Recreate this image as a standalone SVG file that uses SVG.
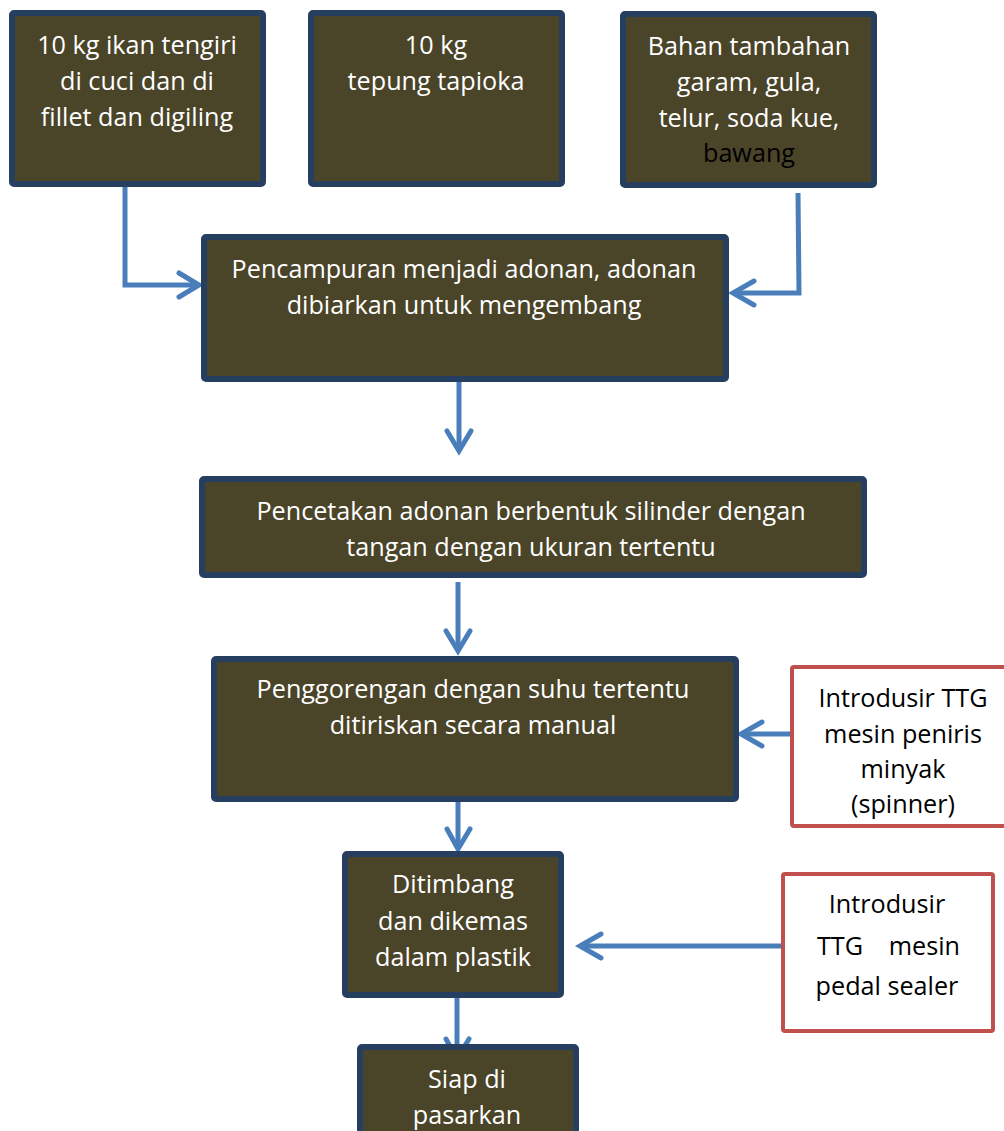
<svg xmlns="http://www.w3.org/2000/svg" width="1004" height="1131" viewBox="0 0 1004 1131">
<style>
.n{fill:#4a4429;stroke:#263f61;stroke-width:6}
.r{fill:#ffffff;stroke:#c0504d;stroke-width:4}
text{font-family:"Open Sans","Liberation Sans",Arial,sans-serif;font-size:25.2px;text-anchor:middle}
.w{fill:#ffffff}
.b{fill:#000000}
.c{fill:none;stroke:#4a7ebb;stroke-width:5;stroke-linejoin:miter}
.h{fill:none;stroke:#4a7ebb;stroke-width:5;stroke-linecap:round;stroke-linejoin:miter}
</style>
<rect width="1004" height="1131" fill="#ffffff"/>
<g id="connectors">
<polyline class="c" points="125,186 125,285 198,285"/>
<polyline class="h" points="179,273 199,285 179,297"/>
<polyline class="c" points="798,193 799,293 734,293"/>
<polyline class="h" points="754,281 733,293 754,305"/>
<line class="c" x1="459" y1="372" x2="459" y2="450"/>
<polyline class="h" points="447,431 459,451 471,431"/>
<line class="c" x1="458" y1="582" x2="458" y2="650"/>
<polyline class="h" points="446,631 458,651 470,631"/>
<line class="c" x1="798" y1="734" x2="742" y2="734"/>
<polyline class="h" points="762,722 741,734 762,746"/>
<line class="c" x1="458" y1="787" x2="458" y2="848"/>
<polyline class="h" points="447,829 458,849 470,829"/>
<line class="c" x1="781" y1="946" x2="581" y2="946"/>
<polyline class="h" points="601,934 580,946 601,958"/>
<line class="c" x1="457" y1="997" x2="457" y2="1058"/>
<polyline class="h" points="446,1039 457,1059 469,1039"/>
</g>
<g id="n1">
<rect class="n" x="12" y="13" width="251" height="171" rx="2"/>
<text class="w" x="137" y="54">10 kg ikan tengiri</text>
<text class="w" x="137" y="90">di cuci dan di</text>
<text class="w" x="137" y="126">fillet dan digiling</text>
</g>
<g id="n2">
<rect class="n" x="311" y="13" width="251" height="171" rx="2"/>
<text class="w" x="436" y="54">10 kg</text>
<text class="w" x="436" y="90">tepung tapioka</text>
</g>
<g id="n3">
<rect class="n" x="623" y="14" width="251" height="171" rx="2"/>
<text class="w" x="749" y="55">Bahan tambahan</text>
<text class="w" x="749" y="91">garam, gula,</text>
<text class="w" x="749" y="127">telur, soda kue,</text>
<text class="b" x="749" y="162">bawang</text>
</g>
<g id="n4">
<rect class="n" x="204" y="237" width="522" height="142" rx="2"/>
<text class="w" x="464" y="278">Pencampuran menjadi adonan, adonan</text>
<text class="w" x="464" y="314">dibiarkan untuk mengembang</text>
</g>
<g id="n5">
<rect class="n" x="202" y="479" width="662" height="96" rx="2"/>
<text class="w" x="531" y="520">Pencetakan adonan berbentuk silinder dengan</text>
<text class="w" x="531" y="556">tangan dengan ukuran tertentu</text>
</g>
<g id="n6">
<rect class="n" x="214" y="659" width="522" height="140" rx="2"/>
<text class="w" x="473" y="698">Penggorengan dengan suhu tertentu</text>
<text class="w" x="473" y="734">ditiriskan secara manual</text>
</g>
<g id="n7">
<rect class="n" x="345" y="854" width="216" height="141" rx="2"/>
<text class="w" x="453" y="893">Ditimbang</text>
<text class="w" x="453" y="930">dan dikemas</text>
<text class="w" x="453" y="966">dalam plastik</text>
</g>
<g id="n8">
<rect class="n" x="360" y="1047" width="216" height="100" rx="2"/>
<text class="w" x="467" y="1088">Siap di</text>
<text class="w" x="467" y="1124">pasarkan</text>
</g>
<g id="r1">
<rect class="r" x="792" y="667" width="220" height="159" rx="2"/>
<text class="b" x="903" y="707">Introdusir TTG</text>
<text class="b" x="903" y="743">mesin peniris</text>
<text class="b" x="903" y="778">minyak</text>
<text class="b" x="903" y="813">(spinner)</text>
</g>
<g id="r2">
<rect class="r" x="783" y="874" width="210" height="157" rx="2"/>
<text class="b" x="887" y="913">Introdusir</text>
<text class="b" y="955"><tspan x="817" style="text-anchor:start">TTG</tspan><tspan x="960" style="text-anchor:end">mesin</tspan></text>
<text class="b" x="887" y="995">pedal sealer</text>
</g>
</svg>
